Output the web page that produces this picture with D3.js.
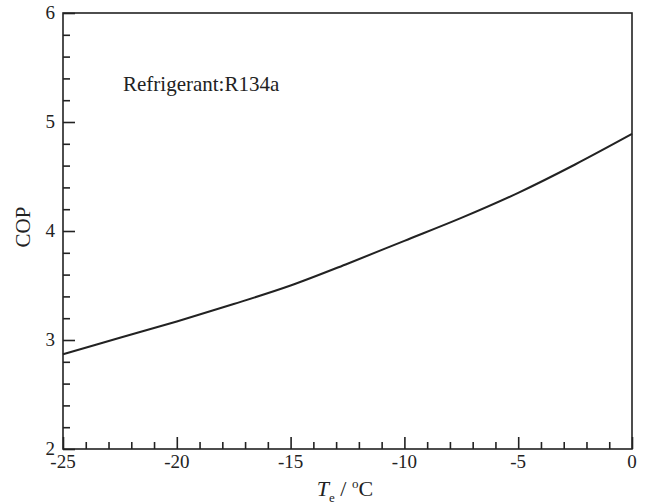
<!DOCTYPE html>
<html><head><meta charset="utf-8">
<script src="https://cdn.jsdelivr.net/npm/d3@7"></script>
<style>body{margin:0;background:#fff}svg{display:block}</style>
</head><body><svg id="c" width="648" height="502"></svg>
<script>
const temps = [-25,-22.5,-20,-17.5,-15,-12.5,-10,-7.5,-5,-2.5,0];
const cop   = [2.87,3.02,3.17,3.33,3.50,3.70,3.91,4.12,4.35,4.61,4.89];
const xTicks = [-25,-20,-15,-10,-5,0];
const yTicks = [2,3,4,5,6];
const annotation = "Refrigerant:R134a";

const FONT = "'Liberation Serif','Times New Roman','DejaVu Serif',serif";
const svg = d3.select("#c");
const L=63,R=632,T=13,B=449;
const x = d3.scaleLinear().domain([-25,0]).range([L,R]);
const y = d3.scaleLinear().domain([2,6]).range([B,T]);
const col="#222";

const xMinor = d3.range(-25,0.001,1).filter(v=>!xTicks.includes(v));
const yMinor = d3.range(2,6.001,0.2).map(v=>+v.toFixed(1)).filter(v=>!yTicks.includes(v));
svg.append("g").attr("transform",`translate(0,${B})`)
  .call(d3.axisTop(x).tickValues(xMinor).tickSize(7).tickFormat(""));
svg.append("g").attr("transform",`translate(0,${B})`)
  .call(d3.axisTop(x).tickValues(xTicks).tickSize(12).tickFormat(""));
svg.append("g").attr("transform",`translate(${L},0)`)
  .call(d3.axisRight(y).tickValues(yMinor).tickSize(7).tickFormat(""));
svg.append("g").attr("transform",`translate(${L},0)`)
  .call(d3.axisRight(y).tickValues(yTicks).tickSize(12).tickFormat(""));
svg.selectAll(".domain").remove();
svg.selectAll(".tick line").attr("stroke",col).attr("stroke-width",1.6);

svg.append("rect").attr("x",L).attr("y",T).attr("width",R-L).attr("height",B-T)
  .attr("fill","none").attr("stroke",col).attr("stroke-width",1.6);

const txt = (sel)=>sel.attr("font-family",FONT).attr("fill",col);

svg.append("g").selectAll("text").data(xTicks).join("text").call(txt)
  .attr("x",d=>x(d)).attr("y",B+19).attr("text-anchor","middle")
  .attr("font-size",19).text(d=>d);
svg.append("g").selectAll("text").data(yTicks).join("text").call(txt)
  .attr("x",L-8).attr("y",d=>y(d)+6).attr("text-anchor","end")
  .attr("font-size",19).text(d=>d);

svg.append("path").datum(temps.map((t,i)=>[t,cop[i]]))
  .attr("d",d3.line().x(d=>x(d[0])).y(d=>y(d[1])).curve(d3.curveCatmullRom))
  .attr("fill","none").attr("stroke",col).attr("stroke-width",2);

svg.append("text").call(txt).attr("x",123).attr("y",91).attr("font-size",21).text(annotation);

svg.append("text").call(txt).attr("transform",`translate(30,227) rotate(-90)`)
  .attr("text-anchor","middle").attr("font-size",21).text("COP");
const xl = svg.append("text").call(txt).attr("x",345).attr("y",496).attr("text-anchor","middle").attr("font-size",22);
xl.append("tspan").attr("font-style","italic").text("T");
xl.append("tspan").attr("font-size",13).attr("dy",6).text("e");
xl.append("tspan").attr("dy",-6).text(" / ");
xl.append("tspan").attr("font-size",13).attr("dy",-8).text("o");
xl.append("tspan").attr("dy",8).text("C");
</script></body></html>
